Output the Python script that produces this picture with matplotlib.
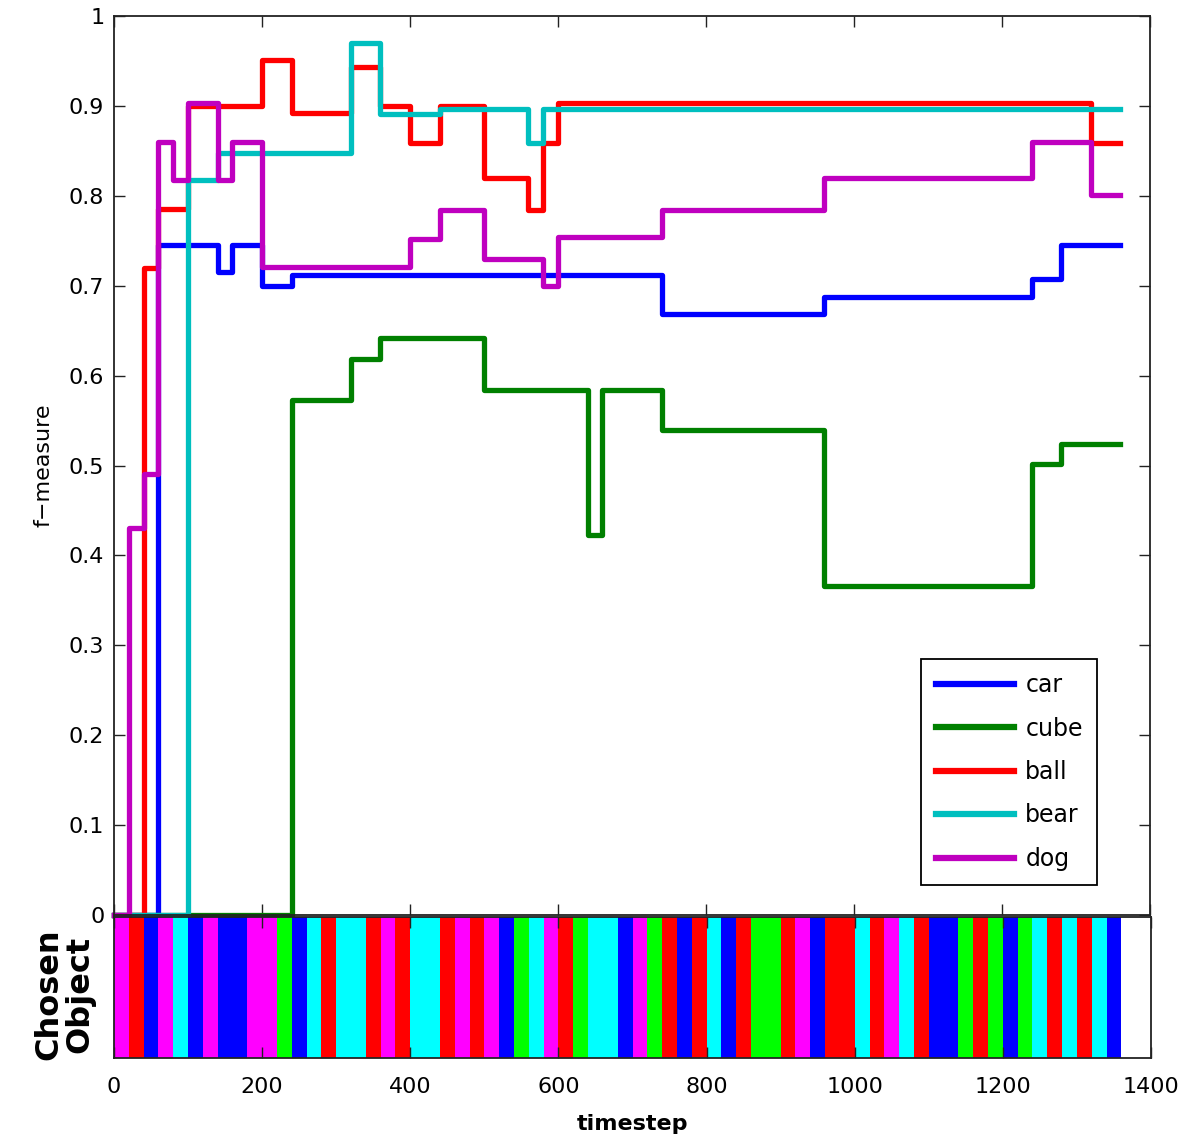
import numpy as np
import matplotlib
matplotlib.use("Agg")
import matplotlib.pyplot as plt

# f-measure over time, step changes (time, value)
car_t = [0, 60, 140, 160, 200, 240, 740, 960, 1240, 1280, 1360]
car_v = [0, 0.745, 0.715, 0.745, 0.700, 0.712, 0.669, 0.687, 0.708, 0.745, 0.745]

cube_t = [0, 240, 320, 360, 500, 640, 660, 740, 960, 1240, 1280, 1360]
cube_v = [0, 0.573, 0.618, 0.642, 0.584, 0.423, 0.584, 0.540, 0.366, 0.502, 0.524, 0.524]

ball_t = [0, 40, 60, 100, 200, 240, 320, 360, 400, 440, 500, 560, 580, 600, 1320, 1360]
ball_v = [0, 0.720, 0.785, 0.900, 0.951, 0.892, 0.943, 0.900, 0.859, 0.900, 0.820, 0.784, 0.859, 0.903, 0.859, 0.859]

bear_t = [0, 100, 140, 320, 360, 440, 560, 580, 1360]
bear_v = [0, 0.818, 0.848, 0.970, 0.891, 0.897, 0.859, 0.897, 0.897]

dog_t = [0, 20, 40, 60, 80, 100, 140, 160, 200, 400, 440, 500, 580, 600, 740, 960, 1240, 1320, 1360]
dog_v = [0, 0.431, 0.490, 0.860, 0.818, 0.903, 0.818, 0.860, 0.721, 0.752, 0.784, 0.730, 0.700,
         0.754, 0.784, 0.820, 0.860, 0.801, 0.801]

names = ['car', 'cube', 'ball', 'bear', 'dog']
line_colors = [(0, 0, 1), (0, 0.5, 0), (1, 0, 0), (0, 0.75, 0.75), (0.75, 0, 0.75)]
strip_colors = {'car': (0, 0, 1), 'cube': (0, 1, 0), 'ball': (1, 0, 0),
                'bear': (0, 1, 1), 'dog': (1, 0, 1)}

# object chosen in each 20-timestep slot
slot_len = 20
choices = ['dog', 'ball', 'car', 'dog', 'bear', 'car', 'dog', 'car', 'car', 'dog',
           'dog', 'cube', 'car', 'bear', 'ball', 'bear', 'bear', 'ball', 'dog', 'ball',
           'bear', 'bear', 'ball', 'dog', 'ball', 'dog', 'car', 'cube', 'bear', 'dog',
           'ball', 'cube', 'bear', 'bear', 'car', 'dog', 'cube', 'ball', 'car', 'ball',
           'bear', 'car', 'ball', 'cube', 'cube', 'ball', 'dog', 'car', 'ball', 'ball',
           'bear', 'ball', 'dog', 'bear', 'ball', 'car', 'car', 'cube', 'ball', 'cube',
           'car', 'cube', 'bear', 'ball', 'bear', 'ball', 'bear', 'car']

series_t = [car_t, cube_t, ball_t, bear_t, dog_t]
series_v = [car_v, cube_v, ball_v, bear_v, dog_v]

W, H = 1192, 1135
fig = plt.figure(figsize=(W / 100, H / 100), dpi=100)
fs = 16
spine_c = '#222222'

ax = fig.add_axes([114 / W, 1 - 915 / H, 1036 / W, 899 / H])
for t, v, c, n in zip(series_t, series_v, line_colors, names):
    ax.step(t, v, where='post', color=c, lw=3.8, label=n, clip_on=False)
ax.set_xlim(0, 1400)
ax.set_ylim(0, 1)
xt = np.arange(0, 1401, 200)
ax.set_xticks(xt)
ax.set_xticklabels([])  # hidden behind the strip anyway
ax.set_yticks(np.arange(0, 1.01, 0.1))
ax.set_yticklabels(['0'] + ['%.1f' % y for y in np.arange(0.1, 0.95, 0.1)] + ['1'])
ax.tick_params(direction='in', length=8, width=1, top=True, right=True,
               labelsize=fs, pad=7, color=spine_c)
for s in ax.spines.values():
    s.set_linewidth(1.3)
    s.set_color(spine_c)
ax.set_ylabel('f\u2212measure', fontsize=fs)
ax.yaxis.set_label_coords(-0.058, 0.5)

leg = ax.legend(loc='lower right', bbox_to_anchor=(1097 / W, 1 - 885 / H),
                bbox_transform=fig.transFigure, borderaxespad=0, fontsize=17,
                handlelength=3.3, handletextpad=0.5, labelspacing=0.82,
                borderpad=0.6, fancybox=False, framealpha=1, edgecolor='black')
leg.get_frame().set_linewidth(1.3)
for h in leg.get_lines():
    h.set_linewidth(4.5)

# strip of chosen objects
ax2 = fig.add_axes([114 / W, 1 - 1058 / H, 1037 / W, 141 / H])
ax2.set_facecolor('white')
starts = np.arange(len(choices)) * slot_len
ax2.bar(starts, np.ones(len(choices)), width=slot_len, align='edge',
        color=[strip_colors[c] for c in choices], linewidth=0)
ax2.set_xlim(0, 1400)
ax2.set_ylim(0, 1)
ax2.set_yticks([])
ax2.set_xticks(xt)
ax2.tick_params(direction='in', length=8, width=1, top=True,
                labelsize=fs, pad=14, color=spine_c)
for s in ax2.spines.values():
    s.set_linewidth(1.3)
    s.set_color(spine_c)
ax2.set_xlabel('timestep', fontsize=fs, fontweight='bold')
ax2.xaxis.set_label_coords(0.5, -0.395)
ax2.set_ylabel('Chosen\nObject', fontsize=23, fontweight='bold', linespacing=1.0)
ax2.yaxis.set_label_coords(-0.018, 0.45)

fig.savefig('out.png', dpi=100)
